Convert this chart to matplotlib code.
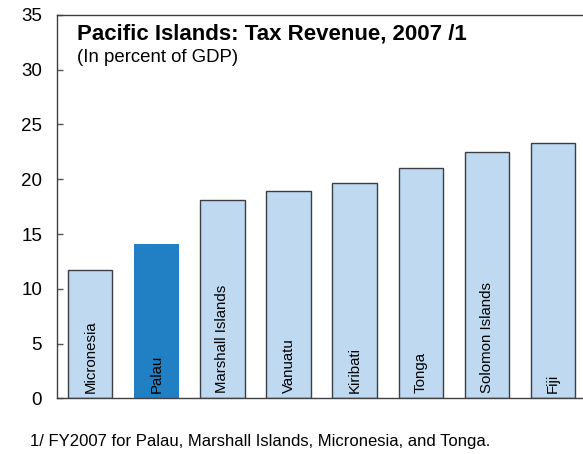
import numpy as np
import matplotlib.pyplot as plt

plt.rcParams['font.family'] = ['Liberation Sans', 'DejaVu Sans']

countries = ['Micronesia', 'Palau', 'Marshall Islands', 'Vanuatu',
             'Kiribati', 'Tonga', 'Solomon Islands', 'Fiji']
tax_revenue = [11.7, 14.1, 18.1, 18.95, 19.65, 21.05, 22.5, 23.3]
highlight = 'Palau'

light = '#bfd9f1'
dark = '#2180c3'

fig = plt.figure(figsize=(5.83, 4.54), dpi=100)
ax = fig.add_axes([0.0983, 0.1227, 0.91, 0.8443])

x = np.arange(len(countries))
for i, (name, val) in enumerate(zip(countries, tax_revenue)):
    if name == highlight:
        ax.bar(i, val, width=0.67, color=dark, edgecolor='none', zorder=2)
    else:
        ax.bar(i, val, width=0.67, color=light, edgecolor='#3a3f45',
               linewidth=1.0, zorder=2)
    ax.text(i, 0.5, name, rotation=90, ha='center', va='bottom',
            fontsize=10.8, color='black', zorder=3)

ax.set_xlim(-0.5, 7.53)
ax.set_ylim(0, 35)
ax.set_yticks(np.arange(0, 36, 5))
ax.set_xticks([])
ax.tick_params(axis='y', direction='in', length=4.5, width=1, color='#555555',
               labelsize=13.5, pad=11)

for side in ['top', 'bottom', 'left']:
    ax.spines[side].set_color('#404040')
    ax.spines[side].set_linewidth(1.0)
ax.spines['right'].set_visible(False)

fig.text(0.132, 0.925, 'Pacific Islands: Tax Revenue, 2007 /1',
         fontsize=16, fontweight='bold', ha='left', va='center')
fig.text(0.132, 0.873, '(In percent of GDP)', fontsize=13.4,
         ha='left', va='center')
fig.text(0.052, 0.028, '1/ FY2007 for Palau, Marshall Islands, Micronesia, and Tonga.',
         fontsize=12, ha='left', va='center')

fig.savefig('out.png', dpi=100)
